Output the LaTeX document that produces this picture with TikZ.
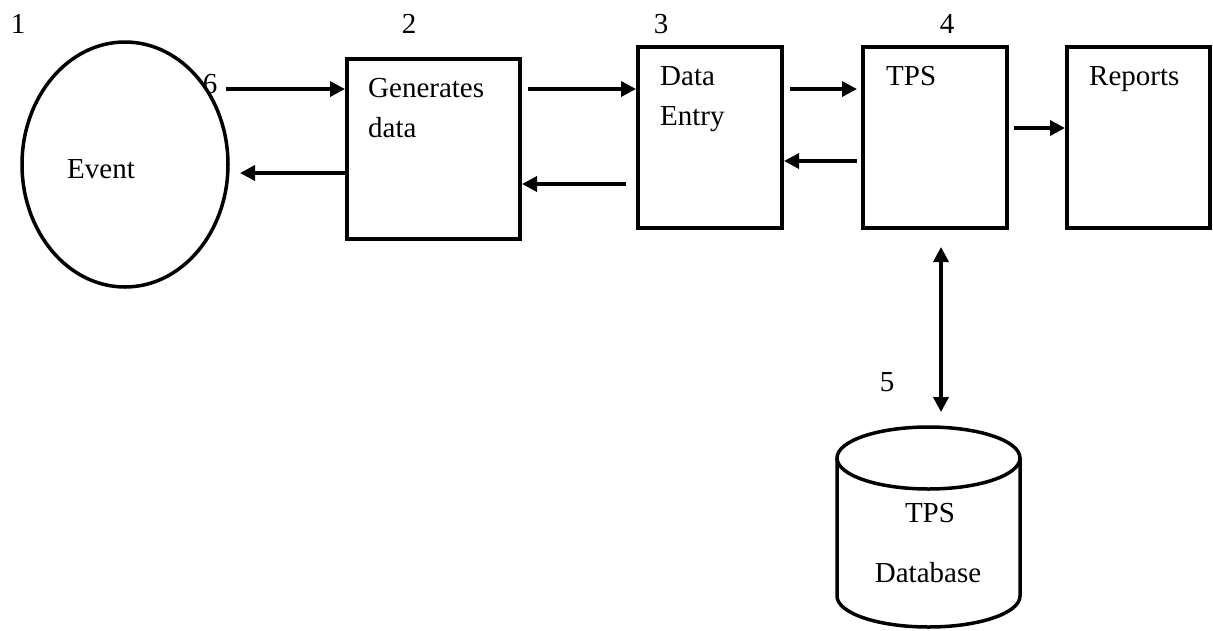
\documentclass[tikz,border=0pt]{standalone}
\usepackage{fontspec}
\setmainfont{Liberation Serif}
\usetikzlibrary{shapes.geometric,arrows.meta}
\begin{document}
\begin{tikzpicture}[x=1pt,y=-1pt,
 box/.style={draw,line width=4pt,inner sep=0pt,rectangle},
 arr/.style={line width=3.5pt,-{Triangle[length=15pt,width=15pt]}},
 darr/.style={line width=3.5pt,{Triangle[length=15pt,width=15pt]}-{Triangle[length=15pt,width=15pt]}},
 lbl/.style={font=\fontsize{29}{35}\selectfont,inner sep=0pt}]
\useasboundingbox (0,0) rectangle (1213,630);
% shapes
\node[draw,line width=3.5pt,ellipse,inner sep=0pt,minimum width=206pt,minimum height=245pt] (ev) at (125,164.5) {};
\node[box,minimum width=173pt,minimum height=180pt] (gen) at (433.5,149) {};
\node[box,minimum width=144pt,minimum height=181pt] (de) at (710,137.5) {};
\node[box,minimum width=144pt,minimum height=181pt] (tps) at (935,137.5) {};
\node[box,minimum width=143pt,minimum height=181pt] (rep) at (1138.5,137.5) {};
% database cylinder
\draw[line width=3.5pt] (837,458) -- (837,596) arc[start angle=180,end angle=0,x radius=91.5,y radius=31] -- (1020,458);
\draw[line width=3.5pt] (928.5,458) ellipse[x radius=91.5,y radius=31];
\coordinate (dbtop) at (941,412);
\coordinate (tpsbot) at (941,247);
% texts
\node[lbl] (n1) at (18,24) {1};
\node[lbl] (n2) at (409,24) {2};
\node[lbl] (n3) at (661,24) {3};
\node[lbl] (n4) at (947,24) {4};
\node[lbl] (n5) at (887,382) {5};
\node[lbl] (n6) at (210,84) {6};
\node[lbl,anchor=base west] (tev) at (67,178) {Event};
\node[lbl,anchor=base west] (tgen1) at (368,97) {Generates};
\node[lbl,anchor=base west] (tgen2) at (368,137) {data};
\node[lbl,anchor=base west] (tde1) at (660,85) {Data};
\node[lbl,anchor=base west] (tde2) at (660,125) {Entry};
\node[lbl,anchor=base west] (ttps) at (886,85) {TPS};
\node[lbl,anchor=base west] (trep) at (1089,85) {Reports};
\node[lbl,anchor=base] (tdb1) at (930,522) {TPS};
\node[lbl,anchor=base] (tdb2) at (928,582) {Database};
% connectors
\coordinate (a1) at (226,89);
\draw[arr] (a1) -- (gen.west |- a1);
\coordinate (a2) at (240,173);
\draw[arr] (gen.west |- a2) -- (a2);
\coordinate (a3) at (528,89);
\draw[arr] (a3) -- (de.west |- a3);
\coordinate (a4) at (626,184);
\draw[arr] (a4) -- (gen.east |- a4);
\coordinate (a5) at (790,89);
\coordinate (a5e) at (857,89);
\draw[arr] (a5) -- (a5e);
\coordinate (a6) at (857,161);
\draw[arr] (a6) -- (de.east |- a6);
\coordinate (a7) at (1014,128);
\draw[arr] (a7) -- (rep.west |- a7);
\draw[darr] (tpsbot) -- (dbtop);
\end{tikzpicture}
\end{document}
